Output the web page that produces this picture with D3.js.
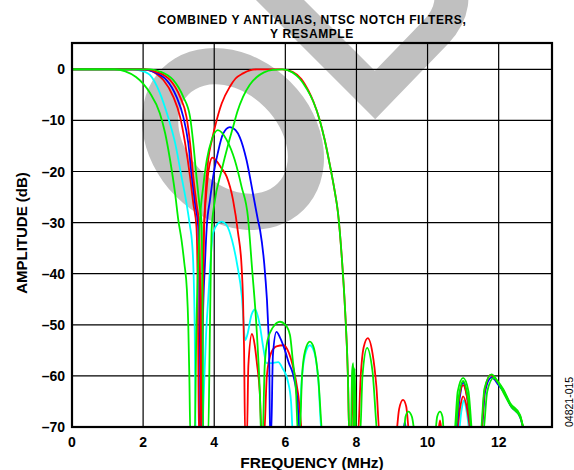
<!DOCTYPE html>
<html>
<head>
<meta charset="utf-8">
<script src="https://cdn.jsdelivr.net/npm/d3@7"></script>
<style>
  html, body { margin: 0; padding: 0; background: #fff; }
  svg { display: block; font-family: "Liberation Sans", Arial, sans-serif; }
</style>
</head>
<body>
<svg id="chart" width="574" height="470"></svg>
<script>
(function(){

const WIDTH = 574, HEIGHT = 470;
const plot = {left: 72, right: 552, top: 43, bottom: 427};

const titleLines = ["COMBINED Y ANTIALIAS, NTSC NOTCH FILTERS,", "Y RESAMPLE"];
const xLabel = "FREQUENCY (MHz)";
const yLabel = "AMPLITUDE (dB)";
const figCode = "04821-015";

const xTicks = [0, 2, 4, 6, 8, 10, 12];
const yTicks = [0, -10, -20, -30, -40, -50, -60, -70];

// [MHz, dB]; -72 = below the bottom of the plot
const cyanCurve = [
  [0,0],[1.7,0],[1.9,-0.2],[2.05,-0.5],[2.19,-1.1],[2.47,-4.6],[2.7,-9.3],[2.9,-14.4],[3.08,-21],[3.22,-26.2],
  [3.32,-30.8],[3.37,-33.4],[3.42,-40],[3.45,-50],[3.48,-72],
  [3.66,-72],[3.7,-64.7],[3.77,-52],[3.83,-45],[3.9,-37],[3.97,-32],[4.1,-30.2],[4.2,-29.8],[4.35,-30.5],[4.5,-33.4],
  [4.64,-38],[4.78,-44.6],[4.87,-53],[4.93,-52],[5.05,-48],[5.15,-47],[5.28,-50],[5.38,-54.5],[5.47,-57.5],[5.6,-57.5],
  [5.8,-57.3],[5.92,-58.5],[6.07,-61],[6.16,-65],[6.22,-72],
  [6.38,-72],[6.45,-62],[6.55,-56],[6.69,-54],[6.82,-55.5],[6.93,-61],[7.03,-72],
  [10.86,-72],[10.95,-67],[11.02,-64.8],[11.1,-67],[11.19,-72]
];

const redBump = [
  [0,0],[1.9,0],[2.19,-0.2],[2.4,-1],[2.57,-2.1],[2.85,-5.4],[3.04,-9.3],[3.18,-14.4],[3.32,-21],[3.41,-26.2],
  [3.5,-30.8],[3.53,-40],[3.55,-55],[3.57,-72],
  [3.6,-72],[3.64,-50],[3.7,-33],[3.78,-24],[3.86,-19],[3.95,-17.3],[4.05,-17.8],[4.2,-19.3],[4.35,-21],[4.53,-25.6],
  [4.67,-32],[4.77,-38.6],[4.81,-45],[4.84,-55],[4.87,-72],
  [4.92,-72],[4.96,-58],[5.06,-51.8],[5.14,-54],[5.2,-57.5],[5.28,-63],[5.34,-72],
  [5.4,-72],[5.48,-60],[5.6,-55.5],[5.75,-54.2],[5.95,-54],[6.1,-55.5],[6.21,-58],[6.36,-63.5],[6.5,-72],
  [10.8,-72],[10.92,-66],[11.0,-64],[11.1,-66],[11.22,-72]
];

const blueCurve = [
  [0,0],[2.0,0],[2.3,-0.5],[2.5,-1.2],[2.66,-2.1],[2.94,-5.4],[3.13,-9.3],[3.27,-14.4],[3.37,-21],[3.46,-26.2],
  [3.55,-30.8],[3.58,-40],[3.6,-55],[3.62,-72],
  [3.64,-72],[3.68,-50],[3.74,-38],[3.79,-30.8],[3.88,-25.6],[3.97,-21],[4.1,-16.4],[4.25,-12.6],[4.44,-11.3],
  [4.6,-11.9],[4.72,-13.3],[4.91,-17.8],[5.09,-24.3],[5.23,-29.5],[5.29,-31.5],[5.43,-40],[5.51,-49],[5.55,-58],[5.57,-72],
  [5.6,-72],[5.65,-56],[5.75,-51.4],[5.85,-52.5],[5.99,-55],[6.1,-57.5],[6.21,-59.5],[6.33,-64],[6.42,-72],
  [9.3,-72],[9.36,-69],[9.42,-72],
  [10.78,-72],[10.9,-64.5],[11.0,-61.3],[11.12,-64.5],[11.25,-72],
  [11.5,-72],[11.62,-63],[11.8,-60.3],[12.0,-61.8],[12.13,-63],[12.35,-66],[12.6,-68],[12.74,-72]
];

const redPass = [
  [0,0],[2.1,0],[2.4,-0.6],[2.6,-1.2],[2.76,-2.1],[3.04,-5.4],[3.22,-9.3],[3.32,-14.4],[3.41,-21],[3.5,-26.2],
  [3.58,-30.8],[3.6,-40],[3.62,-55],[3.63,-72],
  [3.64,-72],[3.67,-50],[3.71,-33],[3.76,-24],[3.83,-17.8],[3.93,-14],[4.02,-11.3],[4.21,-6.7],[4.44,-3.4],[4.6,-1.8],
  [4.81,-0.8],[5.0,-0.2],[5.2,0],[5.9,0],[6.2,-0.5],[6.45,-1.9],[6.65,-4.2],[6.8,-6.5],[6.97,-10],[7.1,-13.6],
  [7.26,-19],[7.38,-23.5],[7.48,-28],[7.59,-37],[7.68,-47],[7.76,-60],[7.8,-72],
  [7.86,-72],[7.9,-58],[7.94,-72],
  [8.04,-72],[8.12,-60],[8.2,-54.5],[8.32,-52.6],[8.45,-55.5],[8.56,-62],[8.66,-72],
  [9.1,-72],[9.2,-66.5],[9.31,-64.7],[9.4,-66],[9.5,-72],
  [10.28,-72],[10.35,-68.7],[10.42,-72],
  [10.76,-72],[10.88,-64.5],[11.0,-61.8],[11.12,-64.5],[11.26,-72],
  [11.5,-72],[11.6,-63],[11.78,-59.8],[11.95,-61],[12.13,-62.8],[12.32,-65.5],[12.6,-67.8],[12.74,-72]
];

const greenBump = [
  [0,0],[1.2,0],[1.5,-0.4],[1.8,-1.5],[2.0,-2.8],[2.19,-4.6],[2.47,-8.6],[2.62,-12.5],[2.76,-17.8],[2.9,-24.3],
  [2.99,-29.5],[3.08,-33.4],[3.16,-38],[3.23,-43],[3.27,-50],[3.3,-60],[3.33,-72],
  [3.45,-72],[3.5,-50],[3.55,-38],[3.6,-29.5],[3.69,-23],[3.79,-17.8],[3.93,-13.8],[4.1,-11.9],[4.35,-13.8],
  [4.58,-17.8],[4.77,-23],[4.95,-29],[5.06,-38.6],[5.2,-51.7],[5.29,-64.7],[5.32,-72],
  [5.36,-72],[5.42,-58],[5.5,-53],[5.65,-50.5],[5.85,-49.4],[6.0,-50],[6.13,-52],[6.21,-57],[6.3,-63],[6.36,-72],
  [6.4,-72],[6.47,-60],[6.56,-55],[6.69,-53.3],[6.8,-54.5],[6.92,-60],[7.06,-72],
  [7.9,-72],[7.95,-58.5],[7.99,-72],
  [10.76,-72],[10.88,-64],[11.0,-61],[11.13,-64],[11.27,-72],
  [11.55,-72],[11.68,-63],[11.86,-60.4],[12.0,-61.5],[12.15,-63.5],[12.35,-66],[12.6,-68],[12.76,-72]
];

const greenPass = [
  [0,0],[2.2,0],[2.5,-0.5],[2.7,-1.2],[2.85,-2.1],[3.13,-5.4],[3.32,-9.3],[3.41,-14.4],[3.5,-21],[3.58,-26.2],
  [3.65,-30.8],[3.67,-45],[3.69,-72],
  [3.83,-72],[3.88,-50],[3.93,-31],[4.0,-26.5],[4.21,-19.7],[4.4,-14.5],[4.53,-11.3],[4.65,-8.3],[4.81,-5.4],
  [5.0,-3],[5.2,-1.5],[5.4,-0.6],[5.65,-0.1],[5.93,0],[6.2,-0.6],[6.4,-1.8],[6.6,-3.8],[6.78,-6.2],[6.97,-10],
  [7.1,-13.6],[7.26,-19],[7.38,-23.5],[7.48,-28],[7.59,-37],[7.68,-47],[7.76,-60],[7.8,-72],
  [7.84,-72],[7.88,-59],[7.91,-57.5],[7.94,-72],
  [8.1,-72],[8.17,-60],[8.3,-54.5],[8.45,-59],[8.61,-72],
  [9.32,-72],[9.38,-68],[9.46,-67],[9.56,-68],[9.67,-72],
  [10.2,-72],[10.27,-68],[10.35,-67],[10.42,-68],[10.47,-72],
  [10.74,-72],[10.85,-63],[11.0,-60.4],[11.15,-63],[11.28,-72],
  [11.48,-72],[11.6,-62.5],[11.8,-59.7],[11.95,-60.8],[12.13,-62.6],[12.32,-65.3],[12.6,-67.6],[12.74,-72]
];

// drawing order, bottom to top
const series = [
  {data: cyanCurve,  color: '#00ffff'},
  {data: redBump,    color: '#ff0000'},
  {data: blueCurve,  color: '#0000ff'},
  {data: redPass,    color: '#ff0000'},
  {data: greenBump,  color: '#00ee00'},
  {data: greenPass,  color: '#00ee00'}
];

const x = d3.scaleLinear().domain([0, 13.5]).range([plot.left, plot.right]);
const y = d3.scaleLinear().domain([-70, 5.15]).range([plot.bottom, plot.top]);

const svg = d3.select('#chart');
svg.append('rect').attr('width', WIDTH).attr('height', HEIGHT).attr('fill', '#fff');

// grey "OBSOLETE" watermark (only the O and part of the B fall in the frame)
const wm = svg.append('g').attr('fill', '#c0c0c0');
wm.append('path')
  .attr('fill-rule', 'evenodd')
  .attr('transform', 'translate(233,139) rotate(45)')
  .attr('d', 'M-100,0 A100,81 0 1,0 100,0 A100,81 0 1,0 -100,0 Z M-63,0 A63,45 0 1,0 63,0 A63,45 0 1,0 -63,0 Z');
wm.append('path')
  .attr('fill', 'none')
  .attr('stroke', '#c0c0c0')
  .attr('stroke-width', 34)
  .attr('stroke-linejoin', 'miter')
  .attr('d', 'M240,-40 L375,95 L436,32 Q462,4 444,-25 L432,-45');

// grid
const grid = svg.append('g').attr('stroke', '#000').attr('stroke-width', 1.2);
grid.selectAll('line.v')
  .data(xTicks.filter(d => d > 0))
  .join('line')
  .attr('class', 'v')
  .attr('x1', d => x(d)).attr('x2', d => x(d))
  .attr('y1', plot.top).attr('y2', plot.bottom);
grid.selectAll('line.h')
  .data(yTicks.filter(d => d > -70))
  .join('line')
  .attr('class', 'h')
  .attr('x1', plot.left).attr('x2', plot.right)
  .attr('y1', d => y(d)).attr('y2', d => y(d));

// curves
svg.append('clipPath').attr('id', 'plot-clip')
  .append('rect')
  .attr('x', plot.left).attr('y', plot.top)
  .attr('width', plot.right - plot.left).attr('height', plot.bottom - plot.top);

const line = d3.line()
  .x(d => x(d[0]))
  .y(d => y(d[1]))
  .curve(d3.curveMonotoneX);

svg.append('g').attr('clip-path', 'url(#plot-clip)')
  .selectAll('path')
  .data(series)
  .join('path')
  .attr('fill', 'none')
  .attr('stroke', d => d.color)
  .attr('stroke-width', 1.8)
  .attr('stroke-linejoin', 'round')
  .attr('d', d => line(d.data));

// frame
svg.append('rect')
  .attr('x', plot.left).attr('y', plot.top)
  .attr('width', plot.right - plot.left).attr('height', plot.bottom - plot.top)
  .attr('fill', 'none').attr('stroke', '#000').attr('stroke-width', 2.2);

// tick labels
svg.append('g')
  .selectAll('text')
  .data(xTicks)
  .join('text')
  .attr('x', d => x(d))
  .attr('y', 447)
  .attr('text-anchor', 'middle')
  .attr('font-size', 14)
  .attr('font-weight', 'bold')
  .text(d => d);

svg.append('g')
  .selectAll('text')
  .data(yTicks)
  .join('text')
  .attr('x', 65)
  .attr('y', d => y(d))
  .attr('dy', '0.36em')
  .attr('text-anchor', 'end')
  .attr('font-size', 14)
  .attr('font-weight', 'bold')
  .text(d => d === 0 ? '0' : '\u2013' + Math.abs(d));

// axis titles
svg.append('text')
  .attr('x', (plot.left + plot.right) / 2)
  .attr('y', 468)
  .attr('text-anchor', 'middle')
  .attr('font-size', 15.5)
  .attr('font-weight', 'bold')
  .text(xLabel);

svg.append('text')
  .attr('transform', `translate(26.5,${(plot.top + plot.bottom) / 2 - 2}) rotate(-90)`)
  .attr('text-anchor', 'middle')
  .attr('font-size', 15)
  .attr('font-weight', 'bold')
  .text(yLabel);

// chart title
svg.append('g')
  .selectAll('text')
  .data(titleLines)
  .join('text')
  .attr('x', (plot.left + plot.right) / 2)
  .attr('y', (d, i) => 24 + i * 13.5)
  .attr('text-anchor', 'middle')
  .attr('font-size', 12)
  .attr('letter-spacing', 0.6)
  .attr('font-weight', 'bold')
  .text(d => d);

svg.append('text')
  .attr('transform', `translate(572.5,${plot.bottom}) rotate(-90)`)
  .attr('font-size', 10.5)
  .text(figCode);

})();
</script>
</body>
</html>
